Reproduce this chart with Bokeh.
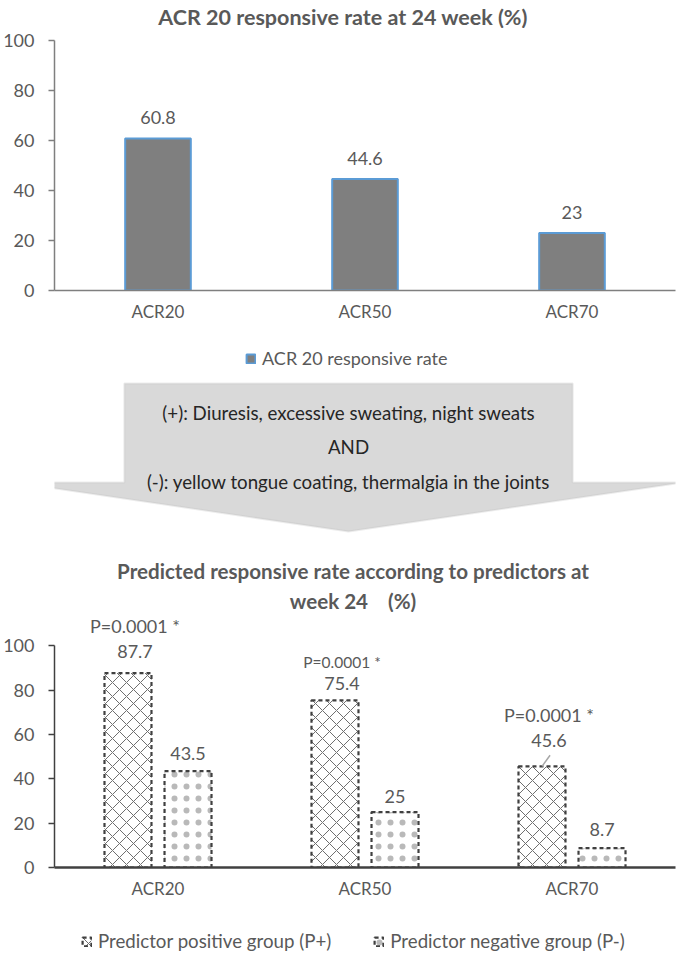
from bokeh.plotting import figure
from bokeh.models import (ColumnDataSource, FactorRange, Range1d, FixedTicker,
                          Legend, LegendItem, PolyAnnotation)
from bokeh.layouts import column
from bokeh.transform import dodge
from bokeh.core.properties import value
from bokeh.embed import file_html
from bokeh.resources import INLINE

# ---------------- data ----------------
top_title = "ACR 20 responsive rate at 24 week (%)"
categories = ["ACR20", "ACR50", "ACR70"]
acr_rate = [60.8, 44.6, 23]
acr_rate_text = ["60.8", "44.6", "23"]
top_series_name = "ACR 20 responsive rate"
y_ticks = [0, 20, 40, 60, 80, 100]

arrow_text = ["(+): Diuresis, excessive sweating, night sweats",
              "AND",
              "(-): yellow tongue coating, thermalgia in the joints"]

bottom_title = ["Predicted responsive rate according to predictors at",
                "week 24\u00a0\u00a0\u00a0\u00a0(%)"]
pos_rate = [87.7, 75.4, 45.6]
neg_rate = [43.5, 25, 8.7]
pos_rate_text = ["87.7", "75.4", "45.6"]
neg_rate_text = ["43.5", "25", "8.7"]
p_value_text = ["P=0.0001 *", "P=0.0001 *", "P=0.0001 *"]
pos_name = "Predictor positive group (P+)"
neg_name = "Predictor negative group (P-)"

# ---------------- style ----------------
FONT = "Lato"
GREY_TXT = "#595959"
DARK_TXT = "#262626"
W = 685
BL, BR = 53, 10            # shared left / right borders (column aligns frames)
pos_label_lift = [-22, -17, -26]
pval_lift = [-47, -38, -51]
pval_size = ["18px", "15.5px", "18px"]
neg_label_lift = [-18, -16, -19]
top_label_lift = [-21, -21, -21]
ARROW_X = [123, 572, 572, 682, 347.5, 13, 123]
ARROW_Y = [383, 383, 482, 482, 531, 482, 482]

TOP_BAR = dict(fill_color="#7f7f7f", line_color="#5b9bd5", line_width=2)
POS_BAR = dict(fill_color="white", hatch_pattern="x", hatch_color="#6e6e6e", hatch_scale=14,
               hatch_weight=1, line_color="#404040", line_width=2.2, line_dash="4 3")
NEG_BAR = dict(fill_color="white", hatch_pattern=".", hatch_color="#7f7f7f", hatch_alpha=0.55,
               hatch_scale=12, hatch_weight=1,
               line_color="#404040", line_width=2.2, line_dash="4 3")


def blank(height, y_top, y_bottom):
    f = figure(width=W, height=height, x_range=Range1d(BL, W - BR),
               y_range=Range1d(y_bottom, y_top), x_axis_type=None, y_axis_type=None,
               output_backend="svg", toolbar_location=None,
               min_border_left=BL, min_border_right=BR, min_border_top=0, min_border_bottom=0)
    f.outline_line_color = None
    return f


def style_axes(p, axis_color, xw, yw):
    p.xgrid.visible = False
    p.ygrid.visible = False
    p.outline_line_color = None
    ya = p.yaxis[0]
    xa = p.xaxis[0]
    ya.ticker = FixedTicker(ticks=y_ticks)
    ya.bounds = (0, 100)
    ya.axis_line_color = axis_color
    ya.axis_line_width = yw
    ya.major_tick_line_color = axis_color
    ya.major_tick_line_width = yw
    ya.major_tick_out = 6
    ya.major_tick_in = 0
    ya.minor_tick_line_color = None
    ya.major_label_standoff = 14
    ya.major_label_text_font = FONT
    ya.major_label_text_font_size = "18px"
    ya.major_label_text_color = GREY_TXT
    xa.axis_line_color = axis_color
    xa.axis_line_width = xw
    xa.major_tick_line_color = None
    xa.major_tick_out = 0
    xa.major_tick_in = 0
    xa.minor_tick_line_color = None
    xa.major_label_standoff = 10
    xa.major_label_text_font = FONT
    xa.major_label_text_font_size = "17px"
    xa.major_label_text_color = GREY_TXT


def make_legend(items, loc, spacing, size):
    return Legend(items=items, orientation="horizontal", location=loc, spacing=spacing,
                  glyph_width=11, glyph_height=11, label_standoff=6, label_height=22,
                  label_text_font=FONT, label_text_font_size=size,
                  label_text_color=GREY_TXT, border_line_color=None,
                  background_fill_alpha=0, padding=0, margin=0)


# ---------------- header ----------------
head = blank(28, 0, 28)
head.text(x=[342], y=[16], text=[top_title], text_font=value(FONT),
          text_font_style="bold", text_font_size="21.5px", text_color=GREY_TXT,
          text_align="center", text_baseline="middle")

# ---------------- top chart ----------------
src_top = ColumnDataSource(dict(cat=categories, rate=acr_rate, label=acr_rate_text,
                                lift=top_label_lift))
pA = figure(width=W, height=308, x_range=FactorRange(*categories), y_range=Range1d(0, 100),
            output_backend="svg", toolbar_location=None,
            min_border_left=BL, min_border_right=BR, min_border_top=12, min_border_bottom=46)
rA = pA.vbar(x="cat", top="rate", width=0.317, source=src_top, **TOP_BAR)
pA.text(x="cat", y="rate", text="label", source=src_top, y_offset="lift",
        text_font=value(FONT), text_font_size="18px", text_color=GREY_TXT,
        text_align="center", text_baseline="middle")
style_axes(pA, "#7f7f7f", 1.5, 1.5)

# ---------------- legend key of top chart + arrow + bottom title ----------------
pB = blank(276, 336, 612)
keyA = pB.vbar(x=[0], top=[0], width=1, visible=False, **TOP_BAR)
pB.add_layout(make_legend([LegendItem(label=top_series_name, renderers=[keyA])],
                          (244 - BL, 612 - 369), 0, "18px"))
pB.add_layout(PolyAnnotation(xs=ARROW_X, ys=ARROW_Y, fill_color="#d9d9d9", fill_alpha=1,
                             line_color="#bfbfbf", line_width=2, level="underlay"))
pB.text(x=[347.5] * 3, y=[412, 446, 481], text=arrow_text, text_font=value(FONT),
        text_font_size="18.7px", text_color=DARK_TXT, text_align="center",
        text_baseline="middle")
pB.text(x=[352, 352], y=[570, 600], text=bottom_title, text_font=value(FONT),
        text_font_style="bold", text_font_size="20.6px", text_color=GREY_TXT,
        text_align="center", text_baseline="middle")

# ---------------- bottom chart ----------------
src_bot = ColumnDataSource(dict(cat=categories, pos=pos_rate, neg=neg_rate,
                                pos_t=pos_rate_text, neg_t=neg_rate_text, pv=p_value_text,
                                pos_lift=pos_label_lift, pv_lift=pval_lift,
                                pv_size=pval_size, neg_lift=neg_label_lift))
pC = figure(width=W, height=308, x_range=FactorRange(*categories), y_range=Range1d(0, 115),
            output_backend="svg", toolbar_location=None,
            min_border_left=BL, min_border_right=BR, min_border_top=0, min_border_bottom=53)
OFF = 0.145
BW = 0.227
rP = pC.vbar(x=dodge("cat", -OFF, range=pC.x_range), top="pos", width=BW, source=src_bot,
             **POS_BAR)
rN = pC.vbar(x=dodge("cat", OFF, range=pC.x_range), top="neg", width=BW, source=src_bot,
             **NEG_BAR)
pC.text(x=dodge("cat", -OFF, range=pC.x_range), y="pos", text="pos_t", source=src_bot,
        y_offset="pos_lift", x_offset=7, text_font=value(FONT), text_font_size="18px",
        text_color=GREY_TXT, text_align="center", text_baseline="middle")
pC.text(x=dodge("cat", -OFF, range=pC.x_range), y="pos", text="pv", source=src_bot,
        y_offset="pv_lift", x_offset=7, text_font=value(FONT), text_font_size="pv_size",
        text_color=GREY_TXT, text_align="center", text_baseline="middle")
pC.text(x=dodge("cat", OFF, range=pC.x_range), y="neg", text="neg_t", source=src_bot,
        y_offset="neg_lift", text_font=value(FONT), text_font_size="18px",
        text_color=GREY_TXT, text_align="center", text_baseline="middle")
src_lead = ColumnDataSource(dict(cat=[categories[2]], y0=[pos_rate[2]], y1=[pos_rate[2] + 5]))
pC.segment(x0=dodge("cat", -OFF, range=pC.x_range), y0="y0",
           x1=dodge("cat", -OFF + 0.039, range=pC.x_range), y1="y1", source=src_lead,
           line_color="#a6a6a6", line_width=1.5)
style_axes(pC, "#404040", 2.5, 1.5)

# ---------------- legend of bottom chart ----------------
foot = blank(39, 920, 959)
keyP = foot.vbar(x=[0], top=[0], width=1, visible=False, **POS_BAR)
keyN = foot.vbar(x=[0], top=[0], width=1, visible=False, **NEG_BAR)
foot.add_layout(make_legend([LegendItem(label=pos_name, renderers=[keyP]),
                             LegendItem(label=neg_name, renderers=[keyN])],
                            (80 - BL, 959 - 952), 42, "18.7px"))

layout = column(head, pA, pB, pC, foot)
open("out.html", "w").write(file_html(layout, INLINE))
